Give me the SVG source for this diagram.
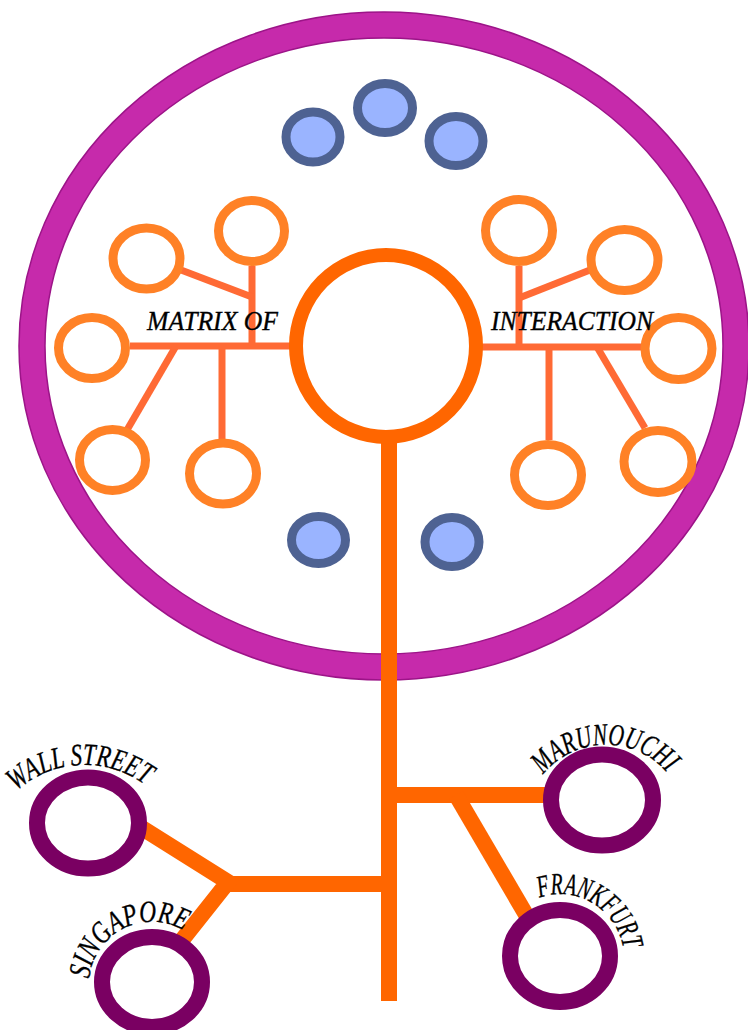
<svg xmlns="http://www.w3.org/2000/svg" xmlns:xlink="http://www.w3.org/1999/xlink" width="748" height="1030" viewBox="0 0 748 1030">
<style>
.lbl{font-family:"Liberation Serif","Times New Roman",serif;font-style:italic;fill:#000;stroke:#000;stroke-width:0.35}
.city{fill:none;stroke:#7A0062;stroke-width:16}
.orb{fill:#9AB4FF;stroke:#4E6292;stroke-width:9}
.sm{fill:none;stroke:#FF8126;stroke-width:9}
.br{stroke:#FF6A35;stroke-width:7;fill:none}
.tr{stroke:#FF6600;stroke-width:16;fill:none}
</style>
<defs>
<path id="pWS" d="M -11.35 832.1 A 102 102 0 0 1 180.35 832.1"/>
<path id="pSG" d="M 92.8 1006.5 A 63 63 0 0 1 206.6 953.5"/>
<path id="pMA" d="M 526.2 811.9 A 81 81 0 0 1 685.8 811.9"/>
<path id="pFR" d="M 504.6 926 A 64 64 0 0 1 620.1 979.9"/>
</defs>
<rect width="748" height="1030" fill="#fff"/>
<g id="ring">
<ellipse cx="384" cy="346" rx="352" ry="321" fill="none" stroke="#C62AAB" stroke-width="26"/>
<ellipse cx="384" cy="346" rx="365" ry="334" fill="none" stroke="#9C1488" stroke-width="1.5"/>
<ellipse cx="384" cy="346" rx="339" ry="308" fill="none" stroke="#9C1488" stroke-width="1.5"/>
</g>
<g id="connectors">
<line class="br" x1="130" y1="346" x2="292" y2="346"/>
<line class="br" x1="252" y1="266" x2="252" y2="346"/>
<line class="br" x1="181" y1="270" x2="252" y2="297"/>
<line class="br" x1="176" y1="346" x2="127" y2="430"/>
<line class="br" x1="222" y1="346" x2="222" y2="439"/>
<line class="br" x1="480" y1="347" x2="641" y2="347"/>
<line class="br" x1="519" y1="266" x2="519" y2="347"/>
<line class="br" x1="519" y1="298" x2="590" y2="270"/>
<line class="br" x1="549" y1="347" x2="549" y2="440"/>
<line class="br" x1="597" y1="347" x2="645" y2="428"/>
<line class="tr" x1="389" y1="440" x2="389" y2="1001"/>
<line class="tr" x1="389" y1="795" x2="546" y2="795"/>
<line class="tr" x1="456" y1="795" x2="528" y2="918"/>
<line class="tr" x1="389" y1="884" x2="226" y2="884"/>
<polyline class="tr" points="142,828 228,882 182,940" stroke-linejoin="miter"/>
</g>
<g id="hub"><ellipse cx="386" cy="346" rx="90" ry="91" fill="#fff" stroke="#FF6600" stroke-width="14"/></g>
<g id="orbs">
<ellipse class="orb" cx="313" cy="137" rx="27" ry="25"/>
<ellipse class="orb" cx="385" cy="108" rx="27.5" ry="24.5"/>
<ellipse class="orb" cx="456" cy="141" rx="27" ry="24.5"/>
<ellipse class="orb" cx="318.5" cy="540" rx="27" ry="23.5"/>
<ellipse class="orb" cx="452" cy="542" rx="27" ry="24.5"/>
</g>
<g id="left-cluster">
<ellipse class="sm" cx="251.5" cy="231" rx="33" ry="30.5"/>
<ellipse class="sm" cx="146.5" cy="258.5" rx="33.5" ry="30.5"/>
<ellipse class="sm" cx="92" cy="348" rx="33.5" ry="30.5"/>
<ellipse class="sm" cx="112.5" cy="460" rx="33" ry="30.5"/>
<ellipse class="sm" cx="223" cy="473.5" rx="33.5" ry="30.5"/>
</g>
<g id="right-cluster">
<ellipse class="sm" cx="519" cy="230.5" rx="33.5" ry="31"/>
<ellipse class="sm" cx="624.5" cy="260" rx="33.5" ry="30.5"/>
<ellipse class="sm" cx="678.5" cy="348.5" rx="33.5" ry="31"/>
<ellipse class="sm" cx="658" cy="461.5" rx="34" ry="31"/>
<ellipse class="sm" cx="548" cy="475" rx="33.5" ry="30.5"/>
</g>
<g id="label-matrix"><text class="lbl" x="147" y="330" font-size="27" textLength="131" lengthAdjust="spacingAndGlyphs">MATRIX OF</text></g>
<g id="label-interaction"><text class="lbl" x="491" y="330" font-size="27" textLength="162" lengthAdjust="spacingAndGlyphs">INTERACTION</text></g>
<g id="wall-street">
<ellipse class="city" cx="88" cy="823" rx="51" ry="45.5"/>
<text class="lbl" font-size="31" text-anchor="middle"><textPath xlink:href="#pWS" href="#pWS" startOffset="48%" textLength="140" lengthAdjust="spacingAndGlyphs">WALL STREET</textPath></text>
</g>
<g id="singapore">
<ellipse class="city" cx="152" cy="982" rx="50" ry="45"/>
<text class="lbl" font-size="31" text-anchor="middle"><textPath xlink:href="#pSG" href="#pSG" startOffset="48.8%" textLength="126" lengthAdjust="spacingAndGlyphs">SINGAPORE</textPath></text>
</g>
<g id="marunouchi">
<ellipse class="city" cx="602" cy="800" rx="51" ry="45.5"/>
<text class="lbl" font-size="31" text-anchor="middle"><textPath xlink:href="#pMA" href="#pMA" startOffset="49.4%" textLength="141" lengthAdjust="spacingAndGlyphs">MARUNOUCHI</textPath></text>
</g>
<g id="frankfurt">
<ellipse class="city" cx="560" cy="956" rx="50" ry="46"/>
<text class="lbl" font-size="31" text-anchor="middle"><textPath xlink:href="#pFR" href="#pFR" startOffset="53.8%" textLength="112" lengthAdjust="spacingAndGlyphs">FRANKFURT</textPath></text>
</g>
</svg>
